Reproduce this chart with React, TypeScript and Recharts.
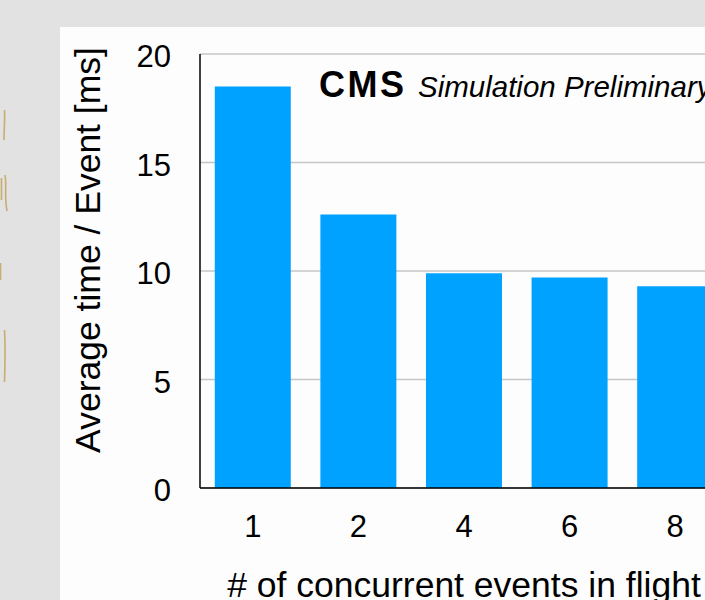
import React from "react";
import { Bar, BarChart, CartesianGrid, XAxis, YAxis } from "recharts";

// concurrent events in flight vs. average processing time per event
const eventsInFlight = ["1", "2", "4", "6", "8"];
const avgTimeMs = [18.5, 12.6, 9.9, 9.7, 9.3];
const timeTicks = [0, 5, 10, 15, 20];

const data = eventsInFlight.map((events, i) => ({ events, time: avgTimeMs[i] }));

const FONT = "'Liberation Sans', Arial, Helvetica, sans-serif";
const BAR_COLOR = "#00a2ff";

// stray brush marks along the left edge of the slide
const edgeMarks = [
  "M4.5 110 C5 120 4 130 4 140",
  "M5 175 C7 185 4 195 7 211",
  "M1.5 178 L1.5 200",
  "M0.5 263 L0.5 280",
  "M4.5 330 C5.5 345 5 365 4.5 382",
];

function YTitle(props: any) {
  const x = 100;
  const y = 250;
  return (
    <text
      x={x}
      y={y}
      transform={`rotate(-90 ${x} ${y})`}
      textAnchor="middle"
      fontFamily={FONT}
      fontSize={35.5}
      fill="#000"
    >
      {props.value}
    </text>
  );
}

export default function App() {
  return (
    <div
      style={{
        position: "fixed",
        left: 0,
        top: 0,
        width: 705,
        height: 600,
        overflow: "hidden",
        background: "#e2e2e2",
      }}
    >
      <div
        style={{
          position: "absolute",
          left: 60,
          top: 27,
          right: 0,
          bottom: 0,
          background: "#fdfdfd",
        }}
      />
      <svg
        width={60}
        height={600}
        style={{ position: "absolute", left: 0, top: 0 }}
      >
        {edgeMarks.map((d, i) => (
          <path key={i} d={d} stroke="#c2a35e" strokeWidth={1.6} fill="none" opacity={0.85} />
        ))}
      </svg>
      <div style={{ position: "absolute", left: 0, top: 0 }}>
        <BarChart
          width={740}
          height={600}
          data={data}
          margin={{ top: 54, right: 12, left: 0, bottom: 0 }}
          barCategoryGap="14%"
        >
          <CartesianGrid
            vertical={false}
            stroke="#c6c6c6"
            strokeWidth={1.5}
          />
          <XAxis
            dataKey="events"
            height={112}
            tickLine={false}
            tickSize={0}
            tickMargin={27}
            axisLine={{ stroke: "#000", strokeWidth: 1.5 }}
            tick={{ fill: "#000", fontSize: 31, fontFamily: FONT }}
            label={{
              value: "# of concurrent events in flight",
              position: "insideBottom",
              offset: 3,
              fill: "#000",
              fontSize: 35.5,
              fontFamily: FONT,
            }}
          />
          <YAxis
            width={200}
            domain={[0, 20]}
            ticks={timeTicks}
            tickLine={false}
            tickSize={0}
            tickMargin={29}
            axisLine={{ stroke: "#000", strokeWidth: 1.5 }}
            tick={{ fill: "#000", fontSize: 31, fontFamily: FONT, dy: 2 }}
            label={{ value: "Average time / Event [ms]", content: YTitle }}
          />
          <Bar dataKey="time" fill={BAR_COLOR} isAnimationActive={false} />
        </BarChart>
      </div>
      <svg
        width={705}
        height={600}
        style={{ position: "absolute", left: 0, top: 0, pointerEvents: "none" }}
      >
        <text x={319} y={97} fontFamily={FONT} fill="#000">
          <tspan fontWeight="bold" fontSize={36} letterSpacing={2.5}>
            CMS
          </tspan>
          <tspan x={418} fontStyle="italic" fontSize={29.5}>
            Simulation Preliminary
          </tspan>
        </text>
      </svg>
    </div>
  );
}
